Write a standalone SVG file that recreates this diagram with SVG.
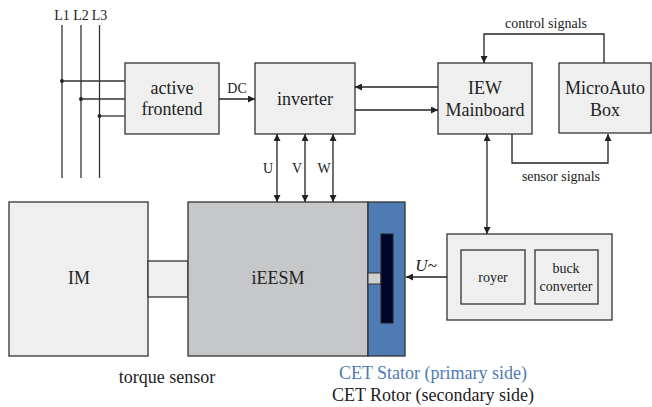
<svg xmlns="http://www.w3.org/2000/svg" width="652" height="407" viewBox="0 0 652 407" font-family="'Liberation Serif', serif">
<defs>
<marker id="ah" viewBox="0 0 10 10" refX="10" refY="5" markerWidth="8" markerHeight="7" markerUnits="userSpaceOnUse" orient="auto-start-reverse">
<path d="M0,0 L10,5 L0,10 z" fill="#222"/>
</marker>
<style>
text{font-family:'Liberation Serif',serif;fill:#222;}
.box{fill:#efefef;stroke:#333;stroke-width:1.3;}
.ln{fill:none;stroke:#333;stroke-width:1.3;}
.arr{fill:none;stroke:#222;stroke-width:1.3;marker-end:url(#ah);}
.darr{fill:none;stroke:#222;stroke-width:1.3;marker-end:url(#ah);marker-start:url(#ah);}
.big{font-size:18px;text-anchor:middle;}
.sm{font-size:14px;text-anchor:middle;}
</style>
</defs>
<rect width="652" height="407" fill="#fff"/>

<g id="grid-lines">
<line class="ln" x1="62" y1="25" x2="62" y2="178"/>
<line class="ln" x1="81" y1="25" x2="81" y2="178"/>
<line class="ln" x1="99.5" y1="25" x2="99.5" y2="178"/>
<text class="sm" x="62" y="20">L1</text>
<text class="sm" x="81" y="20">L2</text>
<text class="sm" x="99.5" y="20">L3</text>
<circle cx="62" cy="81" r="2" fill="#222"/>
<circle cx="81" cy="99" r="2" fill="#222"/>
<circle cx="99.5" cy="116" r="2" fill="#222"/>
</g>

<g id="active-frontend">
<rect class="box" x="125" y="63" width="94" height="71"/>
<text class="big" x="172" y="94">active</text>
<text class="big" x="172" y="115">frontend</text>
</g>

<g id="inverter">
<rect class="box" x="255" y="63" width="100" height="71"/>
<text class="big" x="305" y="105">inverter</text>
</g>

<g id="iew-mainboard">
<rect class="box" x="438" y="63" width="94" height="71"/>
<text class="big" x="485" y="94">IEW</text>
<text class="big" x="485" y="116">Mainboard</text>
</g>

<g id="microautobox">
<rect class="box" x="559" y="63" width="92" height="70"/>
<text class="big" x="605" y="94">MicroAuto</text>
<text class="big" x="605" y="116">Box</text>
</g>

<g id="im">
<rect class="box" x="9" y="202" width="139" height="154"/>
<text class="big" x="79" y="284">IM</text>
</g>

<g id="torque-sensor">
<rect class="box" x="148" y="261" width="40" height="36"/>
<text class="big" x="167" y="383">torque sensor</text>
</g>

<g id="ieesm">
<rect x="188" y="202" width="180" height="154" fill="#c6c7c9" stroke="#333" stroke-width="1.3"/>
<text class="big" x="278" y="284">iEESM</text>
</g>

<g id="cet">
<rect x="368" y="202" width="37" height="154" fill="#4f7bb4" stroke="#333" stroke-width="1.3"/>
<rect x="368" y="273" width="13" height="11" fill="#d0d0d0" stroke="#333" stroke-width="1"/>
<rect x="381" y="234" width="12" height="89" fill="#00052a" stroke="#222" stroke-width="1"/>
<text x="433" y="379" font-size="18" text-anchor="middle" style="fill:#4f7bb4">CET Stator (primary side)</text>
<text x="433" y="401" font-size="18" text-anchor="middle">CET Rotor (secondary side)</text>
</g>

<g id="power-supply">
<rect class="box" x="447" y="234" width="165" height="86"/>
<rect class="box" x="461" y="250" width="64" height="54"/>
<text class="sm" x="493" y="282">royer</text>
<rect class="box" x="535" y="250" width="63" height="54"/>
<text class="sm" x="566" y="273">buck</text>
<text class="sm" x="566" y="291">converter</text>
</g>

<g id="connectors">
<line class="ln" x1="62" y1="81" x2="125" y2="81"/>
<line class="ln" x1="81" y1="99" x2="125" y2="99"/>
<line class="ln" x1="99.5" y1="116" x2="125" y2="116"/>
<line class="arr" x1="219" y1="99" x2="255" y2="99"/>
<text class="sm" x="237" y="93">DC</text>
<line class="arr" x1="438" y1="87" x2="355" y2="87"/>
<line class="arr" x1="355" y1="110" x2="438" y2="110"/>
<line class="darr" x1="277" y1="134" x2="277" y2="202"/>
<line class="darr" x1="305" y1="134" x2="305" y2="202"/>
<line class="darr" x1="333" y1="134" x2="333" y2="202"/>
<text class="sm" x="268" y="173">U</text>
<text class="sm" x="297" y="173">V</text>
<text class="sm" x="324" y="173">W</text>
<polyline class="arr" points="604,63 604,34 484,34 484,63"/>
<text class="sm" x="546" y="28">control signals</text>
<polyline class="arr" points="512,134 512,163 608,163 608,134"/>
<text class="sm" x="561" y="181">sensor signals</text>
<line class="darr" x1="487" y1="134" x2="487" y2="234"/>
<line class="arr" x1="447" y1="277" x2="406" y2="277"/>
<text x="426" y="271" font-size="17" font-style="italic" text-anchor="middle">U~</text>
</g>
</svg>
